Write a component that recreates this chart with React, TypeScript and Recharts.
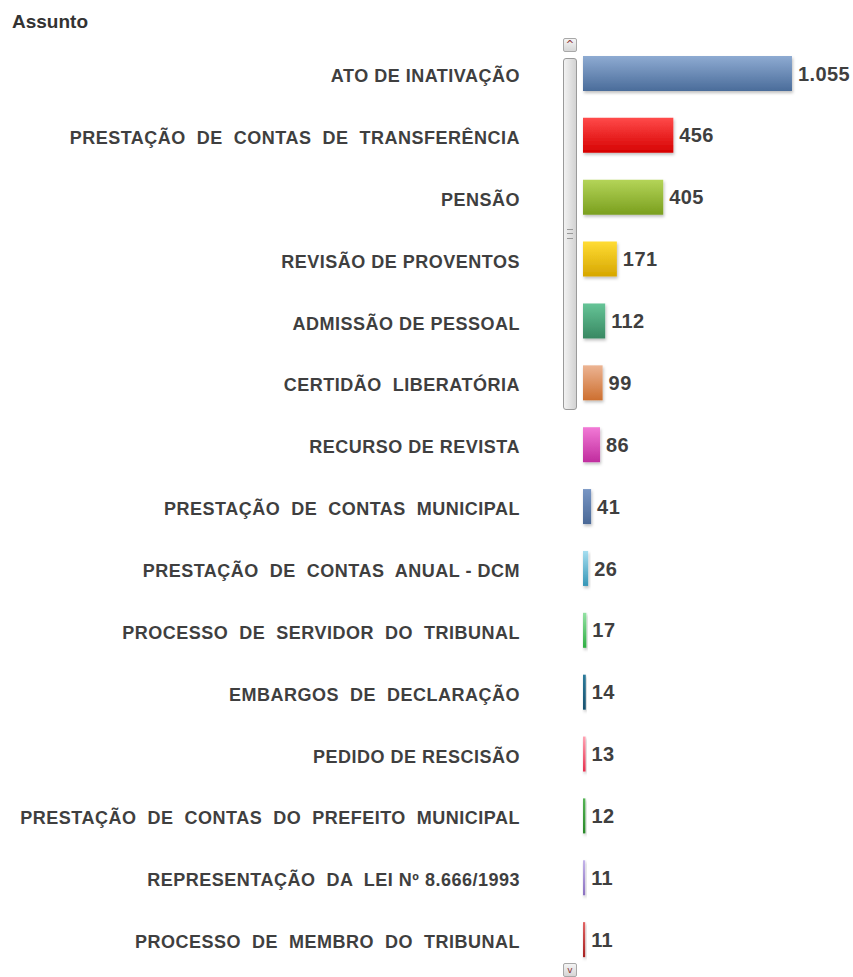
import { BarChart, Bar, XAxis, YAxis, Cell, LabelList } from 'recharts';

// categorias (espaços duplos preservados como no original)
const subjects = [
  'ATO DE INATIVAÇÃO',
  'PRESTAÇÃO  DE  CONTAS  DE  TRANSFERÊNCIA',
  'PENSÃO',
  'REVISÃO DE PROVENTOS',
  'ADMISSÃO DE PESSOAL',
  'CERTIDÃO  LIBERATÓRIA',
  'RECURSO DE REVISTA',
  'PRESTAÇÃO  DE  CONTAS  MUNICIPAL',
  'PRESTAÇÃO  DE  CONTAS  ANUAL - DCM',
  'PROCESSO  DE  SERVIDOR  DO  TRIBUNAL',
  'EMBARGOS  DE  DECLARAÇÃO',
  'PEDIDO DE RESCISÃO',
  'PRESTAÇÃO  DE  CONTAS  DO  PREFEITO  MUNICIPAL',
  'REPRESENTAÇÃO  DA  LEI Nº 8.666/1993',
  'PROCESSO  DE  MEMBRO  DO  TRIBUNAL',
];

const counts = [1055, 456, 405, 171, 112, 99, 86, 41, 26, 17, 14, 13, 12, 11, 11];

// [topo, base] do degradê de cada barra
const barColors = [
  ['#8eabd2', '#4a6c9a'],
  ['#ff4a4a', '#d60000'],
  ['#b4d458', '#7a9f1e'],
  ['#ffdc34', '#d6a600'],
  ['#66c497', '#388862'],
  ['#ecb493', '#cd6f2f'],
  ['#f27ad6', '#c02c9e'],
  ['#7896c4', '#4a6896'],
  ['#a6def0', '#3696b6'],
  ['#94e2a4', '#2eae42'],
  ['#2e7c9c', '#17506e'],
  ['#ffa4b4', '#e6304e'],
  ['#56b456', '#288828'],
  ['#c4b4ea', '#8a70c0'],
  ['#e26464', '#a62020'],
];

const data = subjects.map((name, i) => ({ name, value: counts[i] }));

const LABEL_FONT = '"Liberation Sans", Arial, sans-serif';
const LABEL_RIGHT = 520;

const fmt = (v: number) => String(v).replace(/\B(?=(\d{3})+(?!\d))/g, '.');

const SubjectTick = (props: any) => {
  const { y, payload } = props;
  return (
    <text
      x={LABEL_RIGHT}
      y={y}
      dy="0.45em"
      textAnchor="end"
      fill="#3f3f3f"
      fontFamily={LABEL_FONT}
      fontWeight="bold"
      fontSize={18}
      letterSpacing={0.5}
      style={{ whiteSpace: 'pre' }}
    >
      {payload.value}
    </text>
  );
};

const btn: React.CSSProperties = {
  position: 'absolute',
  left: 563,
  width: 14,
  height: 14,
  boxSizing: 'border-box',
  border: '1px solid #a8a8a8',
  borderRadius: 2,
  background: 'linear-gradient(#f4f4f4, #d6d6d6)',
  color: '#8a3030',
  fontSize: 10,
  lineHeight: '12px',
  textAlign: 'center',
  fontFamily: 'DejaVu Sans, sans-serif',
};

export default function App() {
  return (
    <div style={{ position: 'absolute', left: 0, top: 0, width: 853, height: 977, background: '#fff', overflow: 'hidden' }}>
      <div
        style={{
          position: 'absolute',
          left: 12,
          top: 11,
          fontFamily: LABEL_FONT,
          fontWeight: 'bold',
          fontSize: 19,
          color: '#333',
        }}
      >
        Assunto
      </div>
      <BarChart
        width={853}
        height={977}
        data={data}
        layout="vertical"
        margin={{ top: 43, right: 0, bottom: 6, left: 0 }}
        barSize={35}
      >
        <defs>
          {barColors.map(([a, b], i) => (
            <linearGradient key={i} id={`bg${i}`} x1="0" y1="0" x2="0" y2="1">
              <stop offset="0%" stopColor={a} />
              <stop offset="100%" stopColor={b} />
            </linearGradient>
          ))}
          <filter id="barShadow" x="-20%" y="-20%" width="160%" height="160%">
            <feDropShadow dx="1" dy="2" stdDeviation="1.5" floodColor="#000" floodOpacity="0.25" />
          </filter>
        </defs>
        <XAxis type="number" hide domain={[0, (max: number) => max * 1.292]} />
        <YAxis
          type="category"
          dataKey="name"
          width={583}
          axisLine={false}
          tickLine={false}
          interval={0}
          tick={<SubjectTick />}
        />
        <Bar dataKey="value" isAnimationActive={false} filter="url(#barShadow)">
          {data.map((_, i) => (
            <Cell key={i} fill={`url(#bg${i})`} />
          ))}
          <LabelList
            dataKey="value"
            position="right"
            offset={6}
            formatter={(v: any) => fmt(Number(v))}
            fill="#3f3f3f"
            fontFamily={LABEL_FONT}
            fontWeight="bold"
            fontSize={20}
            letterSpacing={0.4}
          />
        </Bar>
      </BarChart>
      {/* barra de rolagem */}
      <div style={{ ...btn, top: 38 }}>^</div>
      <div
        style={{
          position: 'absolute',
          left: 563,
          top: 58,
          width: 14,
          height: 352,
          boxSizing: 'border-box',
          border: '1px solid #9a9a9a',
          borderRadius: 3,
          background: 'linear-gradient(90deg, #f2f2f2, #d2d2d2)',
        }}
      >
        <div style={{ position: 'absolute', left: 3, top: 170, width: 6, height: 8, borderTop: '1px solid #999', borderBottom: '1px solid #999' }}>
          <div style={{ marginTop: 3, height: 1, background: '#999' }} />
        </div>
      </div>
      <div style={{ ...btn, top: 963, fontSize: 9 }}>v</div>
    </div>
  );
}
